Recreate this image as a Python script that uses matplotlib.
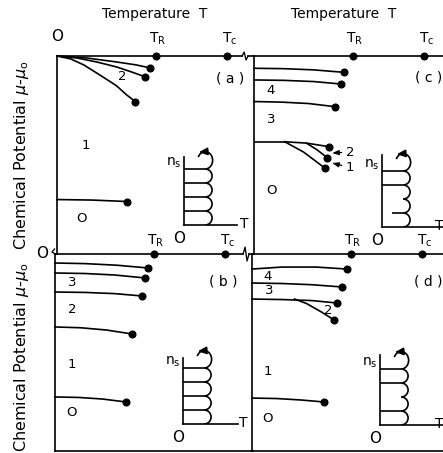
import matplotlib
matplotlib.use('Agg')
import matplotlib.pyplot as plt
from matplotlib.patches import Arc

# --- data: temperature in units of T_R, chemical potential in arbitrary units ---
T_R = 1.0
T_C = 1.72

# panel (a)
a_T = [[0, 0.3, 0.6, 0.8, 0.94],
       [0, 0.2, 0.4, 0.6, 0.75, 0.89],
       [0, 0.14, 0.27, 0.43, 0.6, 0.7, 0.79],
       [0, 0.35, 0.71]]
a_mu = [[0, -0.02, -0.06, -0.09, -0.12],
        [0, -0.02, -0.06, -0.11, -0.16, -0.21],
        [0, -0.03, -0.09, -0.19, -0.30, -0.39, -0.46],
        [-1.45, -1.455, -1.47]]

# panel (b)
b_T = [[0, 0.3, 0.62, 0.94],
       [0, 0.3, 0.6, 0.91],
       [0, 0.3, 0.6, 0.88],
       [0, 0.26, 0.52, 0.78],
       [0, 0.24, 0.48, 0.72]]
b_mu = [[-0.091, -0.097, -0.113, -0.141],
        [-0.192, -0.197, -0.212, -0.242],
        [-0.384, -0.388, -0.40, -0.424],
        [-0.737, -0.745, -0.768, -0.808],
        [-1.444, -1.449, -1.465, -1.495]]

# panel (c)
c_T = [[0, 0.3, 0.6, 0.91],
       [0, 0.3, 0.6, 0.88],
       [0, 0.28, 0.55, 0.82],
       [0.31, 0.53, 0.76],
       [0.53, 0.64, 0.74],
       [0.31, 0.5, 0.72]]
c_mu = [[-0.124, -0.128, -0.14, -0.165],
        [-0.242, -0.246, -0.258, -0.283],
        [-0.46, -0.466, -0.48, -0.512],
        [-0.866, -0.88, -0.916],
        [-0.88, -0.95, -1.027],
        [-0.866, -0.97, -1.135]]
c_flat_T = [0, 0.31]
c_flat_mu = [-0.866, -0.866]

# panel (d)
d_T = [[0, 0.3, 0.65, 0.96],
       [0, 0.3, 0.6, 0.91],
       [0, 0.3, 0.6, 0.86],
       [0.43, 0.55, 0.7, 0.83],
       [0, 0.25, 0.5, 0.73]]
d_mu = [[-0.152, -0.132, -0.132, -0.152],
        [-0.293, -0.298, -0.31, -0.333],
        [-0.455, -0.46, -0.47, -0.495],
        [-0.455, -0.5, -0.585, -0.667],
        [-1.455, -1.46, -1.475, -1.495]]

# insets: n_s levels that carry a horizontal step line
inset_a_steps = [0, 1, 2, 3, 4]
inset_b_steps = [0, 1, 2, 3, 4]
inset_c_steps = [0, 3, 4]
inset_d_steps = [0, 1, 3, 4]
loop_levels = [0, 1, 2, 3]

# --- layout (pixels) ---
W, H = 443, 453
S = 99.0  # pixels per data unit
LW = 1.2
FS = 10

fig = plt.figure(figsize=(W / 100, H / 100), dpi=100)


def rect(l, t, r, b):
    return [l / W, 1 - b / H, (r - l) / W, (b - t) / H]


def panel(l, t, r, b, bottom=False):
    ax = fig.add_axes(rect(l, t, r, b))
    ax.set_xlim(0, (r - l) / S)
    ax.set_ylim(-(b - t) / S, 0)
    ax.set_xticks([])
    ax.set_yticks([])
    ax.patch.set_alpha(0)
    for s in ['top', 'right']:
        ax.spines[s].set_visible(False)
    ax.spines['bottom'].set_visible(bottom)
    ax.spines['left'].set_linewidth(LW)
    ax.spines['bottom'].set_linewidth(LW)
    return ax


def top_axis(ax, brk=None, dy=0.1, zig=0.04):
    xmax = ax.get_xlim()[1]
    if brk is None:
        ax.plot([0, xmax], [0, 0], 'k-', lw=LW, clip_on=False)
    else:
        ax.plot([0, brk - 0.03], [0, 0], 'k-', lw=LW, clip_on=False)
        ax.plot([brk - 0.03, brk - 0.01, brk + 0.01, brk + 0.03],
                [0, zig, -zig, 0], 'k-', lw=LW * 0.8, clip_on=False)
        ax.plot([brk + 0.03, xmax], [0, 0], 'k-', lw=LW, clip_on=False)
    ax.plot([T_R, T_C], [0, 0], 'ko', ms=4.8, clip_on=False)
    ax.text(T_R + 0.02, dy, 'T$_{\\rm R}$', fontsize=FS, ha='center', va='bottom')
    ax.text(T_C + 0.02, dy, 'T$_{\\rm c}$', fontsize=FS, ha='center', va='bottom')


def curves(ax, Ts, mus):
    for T, mu in zip(Ts, mus):
        ax.plot(T, mu, 'k-', lw=LW, clip_on=False)
        ax.plot(T[-1], mu[-1], 'ko', ms=4.8, clip_on=False)


def inset(l, t, r, b, steps, partial=None, t_label=1.06):
    ax = fig.add_axes(rect(l, t, r, b))
    ax.set_xlim(0, (r - l) / 53.0)
    ax.set_ylim(0, (b - t) / 14.0)
    ax.set_xticks([])
    ax.set_yticks([])
    ax.patch.set_alpha(0)
    for s in ['top', 'right']:
        ax.spines[s].set_visible(False)
    for s in ['left', 'bottom']:
        ax.spines[s].set_linewidth(LW)
    ax.hlines([k for k in steps if k > 0], 0, 0.4, colors='k', lw=LW)
    if partial is not None:
        ax.hlines(partial[0], partial[1], 0.4, colors='k', lw=LW)
    for k in loop_levels:
        ax.add_patch(Arc((0.4, k + 0.5), 0.26, 1.0, theta1=-90, theta2=90,
                         color='k', lw=LW))
    # top curl ending in an arrow pointing back (left)
    ax.add_patch(Arc((0.4, 4.62), 0.28, 1.24, theta1=-90, theta2=120,
                     color='k', lw=LW, clip_on=False))
    ax.annotate('', xy=(0.28, 5.2), xytext=(0.34, 5.22),
                arrowprops=dict(arrowstyle='-|>,head_length=0.5,head_width=0.22',
                                color='k', lw=LW, shrinkA=0, shrinkB=0),
                annotation_clip=False)
    ax.text(-0.04, 4.45, 'n$_{\\rm s}$', fontsize=FS, ha='right', va='center')
    ax.text(-0.1, -0.45, 'O', fontsize=FS + 1, ha='center', va='top')
    ax.text(t_label, 0.1, 'T', fontsize=FS, ha='left', va='center')
    return ax


# ---- panel (a)
ax = panel(57, 56, 253, 254)
top_axis(ax, brk=1.9, dy=0.09)
curves(ax, a_T, a_mu)
ax.text(0.0, 0.12, 'O', fontsize=FS + 1, ha='center', va='bottom')
ax.text(0.99, 0.35, 'Temperature  T', fontsize=FS, ha='center', va='bottom')
ax.text(1.75, -0.23, '( a )', fontsize=FS, ha='center', va='center')
ax.text(0.66, -0.21, '2', fontsize=FS - 0.5, ha='center', va='center')
ax.text(0.29, -0.9, '1', fontsize=FS - 0.5, ha='center', va='center')
ax.text(0.25, -1.64, 'O', fontsize=FS - 0.5, ha='center', va='center')

# ---- panel (b)
ax = panel(55, 254, 253, 451, bottom=True)
top_axis(ax, brk=1.93, dy=0.05, zig=0.07)
curves(ax, b_T, b_mu)
ax.plot([-0.005, -0.03, 0.0], [0.05, 0.02, 0.0], 'k-', lw=LW * 0.8, clip_on=False)
ax.text(-0.13, 0.0, 'O', fontsize=FS + 1, ha='center', va='center')
ax.text(1.70, -0.28, '( b )', fontsize=FS, ha='center', va='center')
ax.text(0.17, -0.29, '3', fontsize=FS - 0.5, ha='center', va='center')
ax.text(0.17, -0.56, '2', fontsize=FS - 0.5, ha='center', va='center')
ax.text(0.17, -1.12, '1', fontsize=FS - 0.5, ha='center', va='center')
ax.text(0.17, -1.6, 'O', fontsize=FS - 0.5, ha='center', va='center')

# ---- panel (c)
ax = panel(254, 56, 443, 254)
top_axis(ax, dy=0.09)
ax.plot(c_flat_T, c_flat_mu, 'k-', lw=LW)
curves(ax, c_T, c_mu)
ax.text(0.91, 0.35, 'Temperature  T', fontsize=FS, ha='center', va='bottom')
ax.text(1.76, -0.22, '( c )', fontsize=FS, ha='center', va='center')
ax.text(0.17, -0.35, '4', fontsize=FS - 0.5, ha='center', va='center')
ax.text(0.17, -0.64, '3', fontsize=FS - 0.5, ha='center', va='center')
ax.text(0.18, -1.36, 'O', fontsize=FS - 0.5, ha='center', va='center')
ax.annotate('2', xy=(0.79, -0.98), xytext=(0.97, -0.97), fontsize=FS - 0.5,
            ha='center', va='center',
            arrowprops=dict(arrowstyle='-|>,head_length=0.4,head_width=0.15',
                            color='k', lw=0.9, shrinkA=1, shrinkB=0))
ax.annotate('1', xy=(0.79, -1.08), xytext=(0.97, -1.13), fontsize=FS - 0.5,
            ha='center', va='center',
            arrowprops=dict(arrowstyle='-|>,head_length=0.4,head_width=0.15',
                            color='k', lw=0.9, shrinkA=1, shrinkB=0))

# ---- panel (d)
ax = panel(252, 254, 443, 451, bottom=True)
top_axis(ax, dy=0.05)
curves(ax, d_T, d_mu)
ax.text(1.78, -0.28, '( d )', fontsize=FS, ha='center', va='center')
ax.text(0.16, -0.23, '4', fontsize=FS - 0.5, ha='center', va='center')
ax.text(0.17, -0.37, '3', fontsize=FS - 0.5, ha='center', va='center')
ax.text(0.77, -0.57, '2', fontsize=FS - 0.5, ha='center', va='center')
ax.text(0.16, -1.19, '1', fontsize=FS - 0.5, ha='center', va='center')
ax.text(0.16, -1.66, 'O', fontsize=FS - 0.5, ha='center', va='center')

# ---- insets n_s(T)
inset(184, 157, 237, 225, inset_a_steps)
inset(183, 358, 238, 424, inset_b_steps)
inset(382, 155, 443, 227, inset_c_steps, partial=(1, 0.19), t_label=1.0)
inset(380, 355, 443, 425, inset_d_steps, t_label=1.04)

# ---- shared y labels
for yc in [155, 357]:
    fig.text(22 / W, 1 - yc / H, 'Chemical Potential $\\mu$-$\\mu_{\\rm o}$',
             rotation=90, fontsize=11.5, ha='center', va='center')

fig.savefig('out.png', dpi=100)
